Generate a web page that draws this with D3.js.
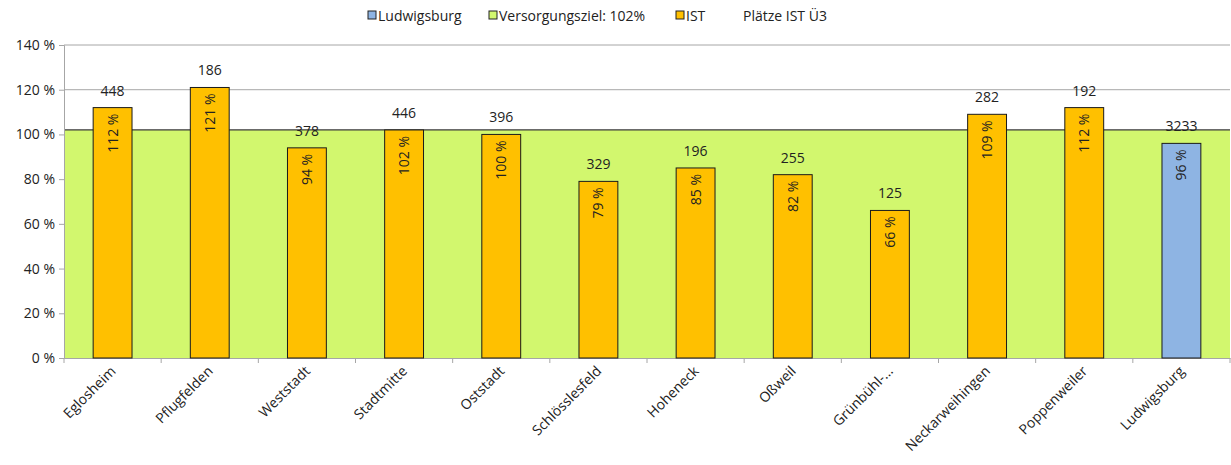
<!DOCTYPE html>
<html>
<head>
<meta charset="utf-8">
<script src="https://cdn.jsdelivr.net/npm/d3@7"></script>
<style>
    body { margin: 0; background: #fff; }
    text { font-family: "Open Sans", "Liberation Sans", Arial, sans-serif; }
</style>
</head>
<body>
<div id="chart"></div>
<script>
// Data
const districts = ["Eglosheim", "Pflugfelden", "Weststadt", "Stadtmitte", "Oststadt", "Schlösslesfeld",
    "Hoheneck", "Oßweil", "Grünbühl-...", "Neckarweihingen", "Poppenweiler", "Ludwigsburg"]
const istPercent = [112, 121, 94, 102, 100, 79, 85, 82, 66, 109, 112, 96]
const plaetzeIst = [448, 186, 378, 446, 396, 329, 196, 255, 125, 282, 192, 3233]
const target = 102
const yTicks = [0, 20, 40, 60, 80, 100, 120, 140]
const legendItems = [
    { label: "Ludwigsburg", color: "#8eb4e3" },
    { label: "Versorgungsziel: 102%", color: "#d2f76e" },
    { label: "IST", color: "#ffc000" },
    { label: "Plätze IST Ü3", color: null }
]

const width = 1231
const height = 465
const margin = { top: 45, right: 1, bottom: 107, left: 64 }
const fontSize = 14

const svg = d3.select("#chart").append("svg")
    .attr("width", width)
    .attr("height", height)

const x = d3.scaleBand()
    .domain(districts)
    .range([margin.left, width - margin.right])
    .paddingInner(0.6)
    .paddingOuter(0.3)
const band = d3.scaleBand()
    .domain(districts)
    .range([margin.left, width - margin.right])
const y = d3.scaleLinear()
    .domain([0, 140])
    .range([height - margin.bottom, margin.top])

// Gridlines
svg.append("g")
    .selectAll("line")
    .data(yTicks)
    .join("line")
    .attr("x1", margin.left)
    .attr("x2", width - margin.right)
    .attr("y1", d => y(d))
    .attr("y2", d => y(d))
    .attr("stroke", "#a6a6a6")
    .attr("stroke-width", 1)

// Target area (Versorgungsziel)
svg.append("rect")
    .attr("x", margin.left)
    .attr("y", y(target))
    .attr("width", width - margin.right - margin.left)
    .attr("height", y(0) - y(target))
    .attr("fill", "#d2f76e")
svg.append("line")
    .attr("x1", margin.left)
    .attr("x2", width - margin.right)
    .attr("y1", y(target))
    .attr("y2", y(target))
    .attr("stroke", "#3a3a3a")
    .attr("stroke-width", 1.2)

// Y axis
const yAxis = svg.append("g")
    .attr("transform", translate(margin.left, 0))
    .call(d3.axisLeft(y).tickValues(yTicks).tickSize(5).tickFormat(d => d + " %"))
yAxis.select(".domain").attr("stroke", "#a6a6a6")
yAxis.selectAll(".tick line").attr("stroke", "#a6a6a6")
yAxis.selectAll("text")
    .attr("font-size", fontSize)
    .attr("font-family", "'Open Sans', sans-serif")
    .attr("fill", "#222")
    .attr("dx", -1)

// X axis
const xAxis = svg.append("g")
    .attr("transform", translate(0, y(0)))
    .call(d3.axisBottom(band).tickSize(0).tickFormat(""))
xAxis.select(".domain").attr("stroke", "#a6a6a6")
svg.append("g")
    .selectAll("line")
    .data(d3.range(districts.length + 1))
    .join("line")
    .attr("x1", i => margin.left + i * band.step())
    .attr("x2", i => margin.left + i * band.step())
    .attr("y1", y(0))
    .attr("y2", y(0) + 5)
    .attr("stroke", "#a6a6a6")

svg.append("g")
    .selectAll("text")
    .data(districts)
    .join("text")
    .attr("transform", d => translate(band(d) + band.bandwidth() / 2 + 4, y(0) + 14) + " rotate(-45)")
    .attr("text-anchor", "end")
    .attr("font-size", fontSize)
    .attr("fill", "#222")
    .text(d => d)

// Bars
svg.append("g")
    .selectAll("rect")
    .data(districts)
    .join("rect")
    .attr("x", d => x(d))
    .attr("y", (d, i) => y(istPercent[i]))
    .attr("width", x.bandwidth())
    .attr("height", (d, i) => y(0) - y(istPercent[i]))
    .attr("fill", (d, i) => i === districts.length - 1 ? "#8eb4e3" : "#ffc000")
    .attr("stroke", "#1a1a1a")
    .attr("stroke-width", 1)

// Percentage labels inside the bars
svg.append("g")
    .selectAll("text")
    .data(districts)
    .join("text")
    .attr("transform", (d, i) => translate(x(d) + x.bandwidth() / 2 + 5, y(istPercent[i]) + 6) + " rotate(-90)")
    .attr("text-anchor", "end")
    .attr("font-size", fontSize)
    .attr("fill", "#222")
    .text((d, i) => istPercent[i] + " %")

// Count labels above the bars
svg.append("g")
    .selectAll("text")
    .data(districts)
    .join("text")
    .attr("x", d => x(d) + x.bandwidth() / 2)
    .attr("y", (d, i) => y(istPercent[i]) - 12)
    .attr("text-anchor", "middle")
    .attr("font-size", fontSize)
    .attr("fill", "#222")
    .text((d, i) => plaetzeIst[i])

// Legend
const legendX = [368, 489, 676, 743]
const legend = svg.append("g")
    .selectAll("g")
    .data(legendItems)
    .join("g")
    .attr("transform", (d, i) => translate(legendX[i], 16))
legend.filter(d => d.color)
    .append("rect")
    .attr("x", 0)
    .attr("y", -5)
    .attr("width", 8)
    .attr("height", 8)
    .attr("fill", d => d.color)
    .attr("stroke", "#222")
legend.append("text")
    .attr("x", d => d.color ? 10 : 0)
    .attr("y", 4.5)
    .attr("font-size", fontSize)
    .attr("fill", "#222")
    .text(d => d.label)

function translate(x, y) {
    return `translate(${x},${y})`
}
</script>
</body>
</html>
